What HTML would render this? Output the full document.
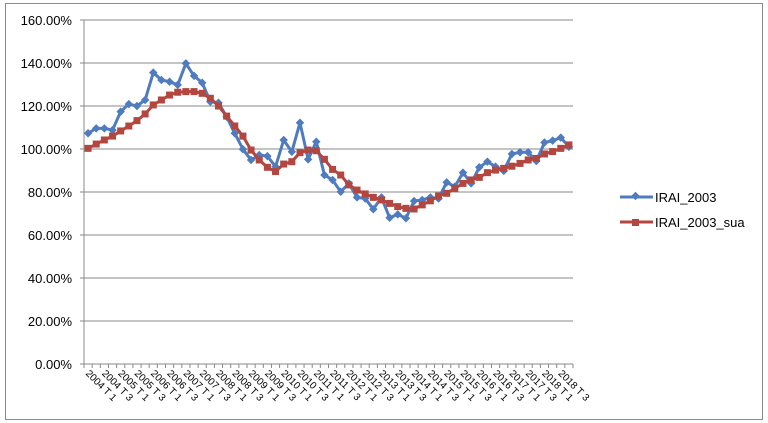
<!DOCTYPE html>
<html><head><meta charset="utf-8"><style>
html,body{margin:0;padding:0;background:#fff;}
svg{display:block;font-family:"Liberation Sans",sans-serif;}
</style></head><body>
<svg id="c" width="768" height="423" xmlns="http://www.w3.org/2000/svg">
<rect x="5.5" y="3.5" width="757" height="416" fill="#fff" stroke="#8a8a8a" stroke-width="1"/>
<g id="grid" stroke="#888" stroke-width="1"></g>
<g id="ylab" font-size="13" fill="#000" text-anchor="end"></g>
<g id="xlab" font-size="10" fill="#000"></g>
<g id="series"></g>
<g font-size="13" fill="#000">
<line x1="620" y1="197" x2="653" y2="197" stroke="#4f7cbf" stroke-width="3"/>
<rect x="632.5" y="193" width="6" height="6" transform="rotate(45 635.5 196)" fill="#4f7cbf"/>
<text x="655" y="202">IRAI_2003</text>
<line x1="620" y1="222" x2="653" y2="222" stroke="#b3463f" stroke-width="3"/>
<rect x="632" y="219" width="7" height="7" fill="#b3463f"/>
<text x="655" y="227">IRAI_2003_sua</text>
</g>
</svg>
<script>
const NS="http://www.w3.org/2000/svg";
function el(p,t,a,txt){const e=document.createElementNS(NS,t);for(const k in a)e.setAttribute(k,a[k]);if(txt!=null)e.textContent=txt;p.appendChild(e);return e;}
const x0=84,x1=573,y0=364,ppv=344/160,n=60,w=(x1-x0)/n;
const g=document.getElementById('grid'),yl=document.getElementById('ylab'),xl=document.getElementById('xlab'),s=document.getElementById('series');
for(let v=0;v<=160;v+=20){const y=y0-v*ppv;if(v>0)el(g,'line',{x1:80,y1:y,x2:x1,y2:y});else el(g,'line',{x1:80,y1:y,x2:x1,y2:y});el(yl,'text',{x:72,y:y+5},v.toFixed(2)+'%');}
el(g,'line',{x1:x0,y1:20,x2:x0,y2:y0});
for(let i=0;i<=n;i++){const x=x0+i*w;el(g,'line',{x1:x,y1:y0,x2:x,y2:y0+4});}
for(let i=0;i<n;i+=2){const yr=2004+Math.floor(i/4);const q=(i%4==0)?1:3;const x=x0+(i+0.5)*w-3;el(xl,'text',{x:x,y:374,transform:`rotate(45 ${x} 374)`},yr+' T '+q);}
const b=[107.3,109.6,109.6,108.8,117.4,120.9,120,122.8,135.5,132.1,131.3,129.8,139.8,134,130.8,122,121.5,115,107.3,99.9,94.9,97.2,96.7,91.8,104.2,98.7,112.2,95.2,103.4,87.9,85.6,80.1,84,77.5,77,72,77.5,68,69.6,67.8,75.8,76.3,77.5,77,84.5,82.5,89,84,91.5,94.1,91.8,89.8,97.7,98.5,98.5,94.4,103,103.9,105.3,101];
const r=[100.3,102.3,104.2,106,108.4,110.7,113.2,116.3,120.5,122.8,125.1,126.4,126.7,126.7,125.9,123.6,120,115.3,110.7,106,99.5,94.9,91.5,89.5,93,94.1,98.3,99.5,99.2,95.2,90.5,87.9,83.3,80.9,79.1,77.5,76.3,74.7,73.2,72.4,72.1,74,75.9,78.1,79.4,81.7,84,85.6,86.8,89,90.2,91,92,93.3,94.9,95.6,97.7,98.8,100.3,101.9];
function X(i){return x0+(i+0.5)*w;}function Y(v){return y0-v*ppv;}
function draw(d,c,m){el(s,'polyline',{points:d.map((v,i)=>X(i)+','+Y(v)).join(' '),fill:'none',stroke:c,'stroke-width':3,'stroke-linejoin':'round'});
d.forEach((v,i)=>{const x=X(i),y=Y(v);if(m=='d')el(s,'rect',{x:x-3,y:y-3,width:6,height:6,fill:c,transform:`rotate(45 ${x} ${y})`});else el(s,'rect',{x:x-3.5,y:y-3.5,width:7,height:7,fill:c});});}
draw(b,'#4f7cbf','d');draw(r,'#b3463f','s');
</script>
</body></html>
